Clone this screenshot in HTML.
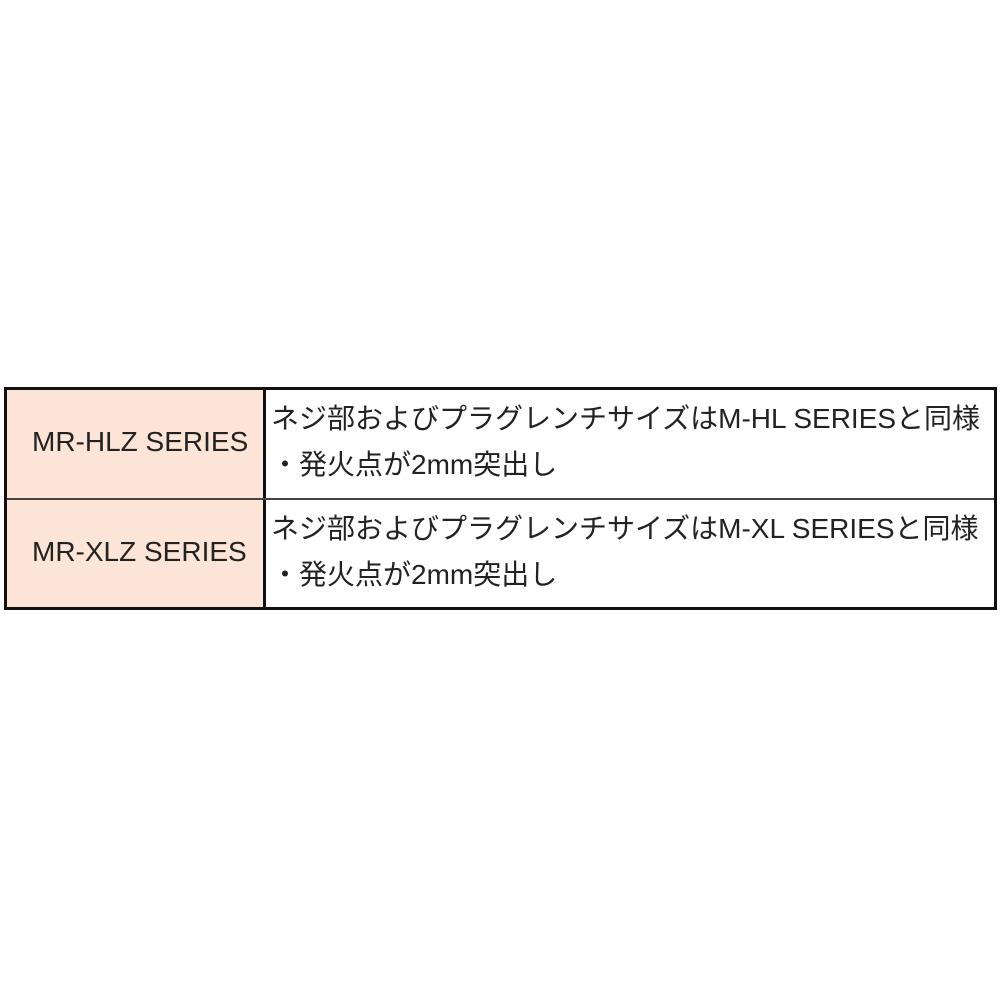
<!DOCTYPE html>
<html><head><meta charset="utf-8"><style>
body{margin:0;width:1000px;height:1000px;background:#fff;position:relative;overflow:hidden;font-family:"Liberation Sans","Noto Sans CJK JP",sans-serif;color:#222}
.box{position:absolute;left:4px;top:387px;width:987px;height:217px;border:3px solid #111;}
.l{position:absolute;left:7px;width:256px;background:#fce4d6}
.v{position:absolute;left:263px;top:390px;width:3px;height:217px;background:#111}
.h{position:absolute;left:7px;top:498px;width:987px;height:2px;background:#444}
.t{position:absolute;font-size:28px;white-space:nowrap;line-height:30px}
</style></head><body>
<div class="l" style="top:390px;height:108px"></div>
<div class="l" style="top:500px;height:107px"></div>
<div class="box"></div>
<div class="v"></div>
<div class="h"></div>
<div class="t" style="left:32px;top:427px">MR-HLZ SERIES</div>
<div class="t" style="left:32px;top:537px">MR-XLZ SERIES</div>
<div class="t" style="left:271px;top:404px">ネジ部およびプラグレンチサイズはM-HL SERIESと同様</div>
<div class="t" style="left:271px;top:450px">・発火点が2mm突出し</div>
<div class="t" style="left:271px;top:514px">ネジ部およびプラグレンチサイズはM-XL SERIESと同様</div>
<div class="t" style="left:271px;top:560px">・発火点が2mm突出し</div>
</body></html>
